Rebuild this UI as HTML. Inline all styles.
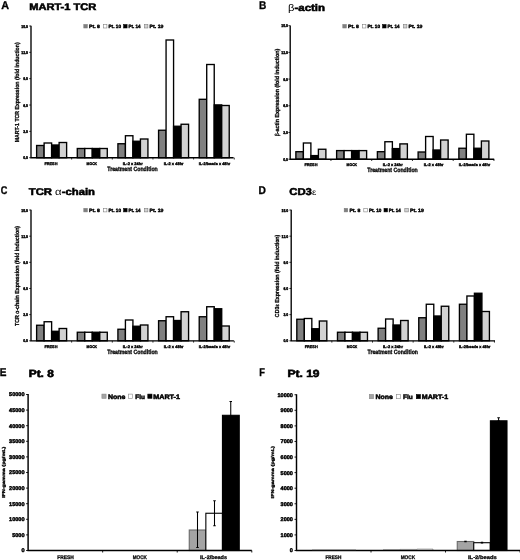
<!DOCTYPE html>
<html><head><meta charset="utf-8"><title>Figure</title>
<style>
html,body{margin:0;padding:0;background:#fff;}
body{width:520px;height:560px;overflow:hidden;font-family:"Liberation Sans", sans-serif;}
svg{display:block;font-family:"Liberation Sans", sans-serif;}
text{fill:#000;text-rendering:geometricPrecision;}
</style></head><body>
<svg width="520" height="560" viewBox="0 0 520 560">
<defs><filter id="soft" x="0" y="0" width="520" height="560" filterUnits="userSpaceOnUse"><feGaussianBlur stdDeviation="0.38"/></filter></defs>
<rect width="520" height="560" fill="#fff"/>
<g filter="url(#soft)">
<text x="1.3" y="9.0" font-size="11.2" font-weight="bold" text-anchor="start" textLength="7.8" lengthAdjust="spacingAndGlyphs" stroke="#000" stroke-width="0.336" >A</text>
<text x="29.25" y="9.8" font-size="9.5" font-weight="bold" text-anchor="start" textLength="67" lengthAdjust="spacingAndGlyphs" stroke="#000" stroke-width="0.570" >MART-1 TCR</text>
<text x="259.1" y="8.5" font-size="11.2" font-weight="bold" text-anchor="start" textLength="7.3" lengthAdjust="spacingAndGlyphs" stroke="#000" stroke-width="0.336" >B</text>
<text x="288" y="10.6" font-size="9.8" font-weight="bold" stroke="#000" stroke-width="0.55" textLength="37" lengthAdjust="spacingAndGlyphs"><tspan font-weight="normal" stroke="none" font-size="9.6">β</tspan>-actin</text>
<text x="0.8" y="193.7" font-size="11.2" font-weight="bold" text-anchor="start" textLength="6.6" lengthAdjust="spacingAndGlyphs" stroke="#000" stroke-width="0.336" >C</text>
<text x="28.75" y="195.2" font-size="9.8" font-weight="bold" stroke="#000" stroke-width="0.55" textLength="66.25" lengthAdjust="spacingAndGlyphs">TCR <tspan font-weight="normal" stroke="none">α</tspan>-chain</text>
<text x="258.6" y="194.2" font-size="11.2" font-weight="bold" text-anchor="start" textLength="7.4" lengthAdjust="spacingAndGlyphs" stroke="#000" stroke-width="0.336" >D</text>
<text x="289.25" y="194.5" font-size="9.9" font-weight="bold" stroke="#000" stroke-width="0.55" textLength="27" lengthAdjust="spacingAndGlyphs">CD3<tspan font-weight="normal" font-size="8.5" stroke="none">ε</tspan></text>
<text x="-0.2" y="376.2" font-size="11.2" font-weight="bold" text-anchor="start" textLength="6.7" lengthAdjust="spacingAndGlyphs" stroke="#000" stroke-width="0.336" >E</text>
<text x="28.75" y="377.2" font-size="10.3" font-weight="bold" text-anchor="start" textLength="25" lengthAdjust="spacingAndGlyphs" stroke="#000" stroke-width="0.618" >Pt. 8</text>
<text x="259.3" y="376.2" font-size="11.2" font-weight="bold" text-anchor="start" textLength="5.7" lengthAdjust="spacingAndGlyphs" stroke="#000" stroke-width="0.336" >F</text>
<text x="287.5" y="377.2" font-size="10.3" font-weight="bold" text-anchor="start" textLength="32" lengthAdjust="spacingAndGlyphs" stroke="#000" stroke-width="0.618" >Pt. 19</text>
<rect x="36.62" y="145.50" width="7.50" height="12.20" fill="#808080" stroke="#000" stroke-width="1.35"/>
<rect x="44.12" y="143.00" width="7.50" height="14.70" fill="#ffffff" stroke="#000" stroke-width="1.35"/>
<rect x="51.62" y="145.00" width="7.50" height="12.70" fill="#000000" stroke="#000" stroke-width="1.35"/>
<rect x="59.12" y="142.50" width="7.50" height="15.20" fill="#d2d2d2" stroke="#000" stroke-width="1.35"/>
<rect x="77.28" y="148.50" width="7.50" height="9.20" fill="#808080" stroke="#000" stroke-width="1.35"/>
<rect x="84.78" y="148.50" width="7.50" height="9.20" fill="#ffffff" stroke="#000" stroke-width="1.35"/>
<rect x="92.28" y="148.50" width="7.50" height="9.20" fill="#000000" stroke="#000" stroke-width="1.35"/>
<rect x="99.78" y="148.50" width="7.50" height="9.20" fill="#d2d2d2" stroke="#000" stroke-width="1.35"/>
<rect x="117.92" y="143.75" width="7.50" height="13.95" fill="#808080" stroke="#000" stroke-width="1.35"/>
<rect x="125.42" y="135.75" width="7.50" height="21.95" fill="#ffffff" stroke="#000" stroke-width="1.35"/>
<rect x="132.93" y="141.25" width="7.50" height="16.45" fill="#000000" stroke="#000" stroke-width="1.35"/>
<rect x="140.43" y="139.00" width="7.50" height="18.70" fill="#d2d2d2" stroke="#000" stroke-width="1.35"/>
<rect x="158.57" y="130.25" width="7.50" height="27.45" fill="#808080" stroke="#000" stroke-width="1.35"/>
<rect x="166.07" y="40.00" width="7.50" height="117.70" fill="#ffffff" stroke="#000" stroke-width="1.35"/>
<rect x="173.57" y="126.25" width="7.50" height="31.45" fill="#000000" stroke="#000" stroke-width="1.35"/>
<rect x="181.07" y="124.25" width="7.50" height="33.45" fill="#d2d2d2" stroke="#000" stroke-width="1.35"/>
<rect x="199.22" y="99.30" width="7.50" height="58.40" fill="#808080" stroke="#000" stroke-width="1.35"/>
<rect x="206.72" y="64.50" width="7.50" height="93.20" fill="#ffffff" stroke="#000" stroke-width="1.35"/>
<rect x="214.22" y="104.90" width="7.50" height="52.80" fill="#000000" stroke="#000" stroke-width="1.35"/>
<rect x="221.72" y="105.50" width="7.50" height="52.20" fill="#d2d2d2" stroke="#000" stroke-width="1.35"/>
<path d="M31 25.8 V157.7 H233.6" fill="none" stroke="#000" stroke-width="1.35"/>
<path d="M29.2 26.00 H31" stroke="#000" stroke-width="0.8"/>
<text x="28.0" y="27.6" font-size="4.0" font-weight="bold" text-anchor="end" textLength="6.8" lengthAdjust="spacingAndGlyphs" stroke="#000" stroke-width="0.400" >15.0</text>
<path d="M29.2 52.34 H31" stroke="#000" stroke-width="0.8"/>
<text x="28.0" y="53.94" font-size="4.0" font-weight="bold" text-anchor="end" textLength="6.8" lengthAdjust="spacingAndGlyphs" stroke="#000" stroke-width="0.400" >12.0</text>
<path d="M29.2 78.68 H31" stroke="#000" stroke-width="0.8"/>
<text x="28.0" y="80.28" font-size="4.0" font-weight="bold" text-anchor="end" textLength="4.8" lengthAdjust="spacingAndGlyphs" stroke="#000" stroke-width="0.400" >9.0</text>
<path d="M29.2 105.02 H31" stroke="#000" stroke-width="0.8"/>
<text x="28.0" y="106.62" font-size="4.0" font-weight="bold" text-anchor="end" textLength="4.8" lengthAdjust="spacingAndGlyphs" stroke="#000" stroke-width="0.400" >6.0</text>
<path d="M29.2 131.36 H31" stroke="#000" stroke-width="0.8"/>
<text x="28.0" y="132.96" font-size="4.0" font-weight="bold" text-anchor="end" textLength="4.8" lengthAdjust="spacingAndGlyphs" stroke="#000" stroke-width="0.400" >3.0</text>
<path d="M29.2 157.70 H31" stroke="#000" stroke-width="0.8"/>
<text x="28.0" y="159.3" font-size="4.0" font-weight="bold" text-anchor="end" textLength="4.8" lengthAdjust="spacingAndGlyphs" stroke="#000" stroke-width="0.400" >0.0</text>
<path d="M71.65 157.7 v1.8" stroke="#000" stroke-width="0.8"/>
<path d="M112.30 157.7 v1.8" stroke="#000" stroke-width="0.8"/>
<path d="M152.95 157.7 v1.8" stroke="#000" stroke-width="0.8"/>
<path d="M193.60 157.7 v1.8" stroke="#000" stroke-width="0.8"/>
<path d="M234.25 157.7 v1.8" stroke="#000" stroke-width="0.8"/>
<text x="50.95" y="164.6" font-size="3.9" font-weight="bold" text-anchor="middle" textLength="13" lengthAdjust="spacingAndGlyphs" stroke="#000" stroke-width="0.351" >FRESH</text>
<text x="91.85" y="164.6" font-size="3.9" font-weight="bold" text-anchor="middle" textLength="10.5" lengthAdjust="spacingAndGlyphs" stroke="#000" stroke-width="0.351" >MOCK</text>
<text x="132.75" y="164.6" font-size="3.9" font-weight="bold" text-anchor="middle" textLength="20" lengthAdjust="spacingAndGlyphs" stroke="#000" stroke-width="0.351" >IL-2 x 24hr</text>
<text x="173.65" y="164.6" font-size="3.9" font-weight="bold" text-anchor="middle" textLength="20" lengthAdjust="spacingAndGlyphs" stroke="#000" stroke-width="0.351" >IL-2 x 48hr</text>
<text x="214.55" y="164.6" font-size="3.9" font-weight="bold" text-anchor="middle" textLength="31.5" lengthAdjust="spacingAndGlyphs" stroke="#000" stroke-width="0.351" >IL-2/beads x 48hr</text>
<text x="132.5" y="171.1" font-size="6.2" font-weight="bold" text-anchor="middle" textLength="50.5" lengthAdjust="spacingAndGlyphs" stroke="#000" stroke-width="0.310" >Treatment Condition</text>
<text x="19.3" y="92.35" font-size="5.8" font-weight="bold" text-anchor="middle" textLength="100" lengthAdjust="spacingAndGlyphs" transform="rotate(-90 19.3 92.35)" stroke="#000" stroke-width="0.290" >MART-1 TCR Expression (fold induction)</text>
<rect x="83.80" y="24.50" width="3.5" height="3.5" fill="#808080" stroke="#777" stroke-width="0.55"/>
<text x="89.0" y="28.15" font-size="4.8" font-weight="bold" text-anchor="start" textLength="10.9" lengthAdjust="spacingAndGlyphs" stroke="#000" stroke-width="0.408" >Pt. 8</text>
<rect x="103.40" y="24.50" width="3.5" height="3.5" fill="#ffffff" stroke="#777" stroke-width="0.55"/>
<text x="108.5" y="28.15" font-size="4.8" font-weight="bold" text-anchor="start" textLength="12.5" lengthAdjust="spacingAndGlyphs" stroke="#000" stroke-width="0.408" >Pt. 10</text>
<rect x="123.60" y="24.50" width="3.5" height="3.5" fill="#000000" stroke="#000" stroke-width="0.55"/>
<text x="128.4" y="28.15" font-size="4.8" font-weight="bold" text-anchor="start" textLength="12.1" lengthAdjust="spacingAndGlyphs" stroke="#000" stroke-width="0.408" >Pt. 14</text>
<rect x="144.40" y="24.50" width="3.5" height="3.5" fill="#d2d2d2" stroke="#777" stroke-width="0.55"/>
<text x="149.6" y="28.15" font-size="4.8" font-weight="bold" text-anchor="start" textLength="13.8" lengthAdjust="spacingAndGlyphs" stroke="#000" stroke-width="0.408" >Pt. 19</text>
<rect x="295.88" y="151.70" width="7.50" height="7.50" fill="#808080" stroke="#000" stroke-width="1.35"/>
<rect x="303.38" y="143.00" width="7.50" height="16.20" fill="#ffffff" stroke="#000" stroke-width="1.35"/>
<rect x="310.88" y="155.60" width="7.50" height="3.60" fill="#000000" stroke="#000" stroke-width="1.35"/>
<rect x="318.38" y="149.25" width="7.50" height="9.95" fill="#d2d2d2" stroke="#000" stroke-width="1.35"/>
<rect x="336.62" y="150.60" width="7.50" height="8.60" fill="#808080" stroke="#000" stroke-width="1.35"/>
<rect x="344.12" y="150.60" width="7.50" height="8.60" fill="#ffffff" stroke="#000" stroke-width="1.35"/>
<rect x="351.62" y="150.60" width="7.50" height="8.60" fill="#000000" stroke="#000" stroke-width="1.35"/>
<rect x="359.12" y="150.60" width="7.50" height="8.60" fill="#d2d2d2" stroke="#000" stroke-width="1.35"/>
<rect x="377.38" y="151.70" width="7.50" height="7.50" fill="#808080" stroke="#000" stroke-width="1.35"/>
<rect x="384.88" y="141.75" width="7.50" height="17.45" fill="#ffffff" stroke="#000" stroke-width="1.35"/>
<rect x="392.38" y="148.60" width="7.50" height="10.60" fill="#000000" stroke="#000" stroke-width="1.35"/>
<rect x="399.88" y="143.90" width="7.50" height="15.30" fill="#d2d2d2" stroke="#000" stroke-width="1.35"/>
<rect x="418.12" y="152.00" width="7.50" height="7.20" fill="#808080" stroke="#000" stroke-width="1.35"/>
<rect x="425.62" y="136.50" width="7.50" height="22.70" fill="#ffffff" stroke="#000" stroke-width="1.35"/>
<rect x="433.12" y="150.00" width="7.50" height="9.20" fill="#000000" stroke="#000" stroke-width="1.35"/>
<rect x="440.62" y="140.00" width="7.50" height="19.20" fill="#d2d2d2" stroke="#000" stroke-width="1.35"/>
<rect x="458.88" y="148.25" width="7.50" height="10.95" fill="#808080" stroke="#000" stroke-width="1.35"/>
<rect x="466.38" y="134.25" width="7.50" height="24.95" fill="#ffffff" stroke="#000" stroke-width="1.35"/>
<rect x="473.88" y="148.25" width="7.50" height="10.95" fill="#000000" stroke="#000" stroke-width="1.35"/>
<rect x="481.38" y="141.00" width="7.50" height="18.20" fill="#d2d2d2" stroke="#000" stroke-width="1.35"/>
<path d="M290.2 25.5 V159.2 H494.2" fill="none" stroke="#000" stroke-width="1.35"/>
<path d="M288.4 25.70 H290.2" stroke="#000" stroke-width="0.8"/>
<text x="288.0" y="27.3" font-size="4.0" font-weight="bold" text-anchor="end" textLength="6.8" lengthAdjust="spacingAndGlyphs" stroke="#000" stroke-width="0.400" >15.0</text>
<path d="M288.4 52.40 H290.2" stroke="#000" stroke-width="0.8"/>
<text x="288.0" y="54.0" font-size="4.0" font-weight="bold" text-anchor="end" textLength="6.8" lengthAdjust="spacingAndGlyphs" stroke="#000" stroke-width="0.400" >12.0</text>
<path d="M288.4 79.10 H290.2" stroke="#000" stroke-width="0.8"/>
<text x="288.0" y="80.7" font-size="4.0" font-weight="bold" text-anchor="end" textLength="4.8" lengthAdjust="spacingAndGlyphs" stroke="#000" stroke-width="0.400" >9.0</text>
<path d="M288.4 105.80 H290.2" stroke="#000" stroke-width="0.8"/>
<text x="288.0" y="107.4" font-size="4.0" font-weight="bold" text-anchor="end" textLength="4.8" lengthAdjust="spacingAndGlyphs" stroke="#000" stroke-width="0.400" >6.0</text>
<path d="M288.4 132.50 H290.2" stroke="#000" stroke-width="0.8"/>
<text x="288.0" y="134.1" font-size="4.0" font-weight="bold" text-anchor="end" textLength="4.8" lengthAdjust="spacingAndGlyphs" stroke="#000" stroke-width="0.400" >3.0</text>
<path d="M288.4 159.20 H290.2" stroke="#000" stroke-width="0.8"/>
<text x="288.0" y="160.8" font-size="4.0" font-weight="bold" text-anchor="end" textLength="4.8" lengthAdjust="spacingAndGlyphs" stroke="#000" stroke-width="0.400" >0.0</text>
<path d="M330.95 159.2 v1.8" stroke="#000" stroke-width="0.8"/>
<path d="M371.70 159.2 v1.8" stroke="#000" stroke-width="0.8"/>
<path d="M412.45 159.2 v1.8" stroke="#000" stroke-width="0.8"/>
<path d="M453.20 159.2 v1.8" stroke="#000" stroke-width="0.8"/>
<path d="M493.95 159.2 v1.8" stroke="#000" stroke-width="0.8"/>
<text x="310.95" y="166.1" font-size="3.9" font-weight="bold" text-anchor="middle" textLength="13" lengthAdjust="spacingAndGlyphs" stroke="#000" stroke-width="0.351" >FRESH</text>
<text x="351.85" y="166.1" font-size="3.9" font-weight="bold" text-anchor="middle" textLength="10.5" lengthAdjust="spacingAndGlyphs" stroke="#000" stroke-width="0.351" >MOCK</text>
<text x="392.75" y="166.1" font-size="3.9" font-weight="bold" text-anchor="middle" textLength="20" lengthAdjust="spacingAndGlyphs" stroke="#000" stroke-width="0.351" >IL-2 x 24hr</text>
<text x="433.65" y="166.1" font-size="3.9" font-weight="bold" text-anchor="middle" textLength="20" lengthAdjust="spacingAndGlyphs" stroke="#000" stroke-width="0.351" >IL-2 x 48hr</text>
<text x="474.55" y="166.1" font-size="3.9" font-weight="bold" text-anchor="middle" textLength="31.5" lengthAdjust="spacingAndGlyphs" stroke="#000" stroke-width="0.351" >IL-2/beads x 48hr</text>
<text x="392.5" y="171.6" font-size="6.2" font-weight="bold" text-anchor="middle" textLength="50.5" lengthAdjust="spacingAndGlyphs" stroke="#000" stroke-width="0.310" >Treatment Condition</text>
<text x="279.3" y="92.5" font-size="5.8" font-weight="bold" text-anchor="middle" textLength="87.5" lengthAdjust="spacingAndGlyphs" transform="rotate(-90 279.3 92.5)" stroke="#000" stroke-width="0.290" ><tspan font-weight="normal">β</tspan>-actin Expression (fold induction)</text>
<rect x="342.80" y="24.50" width="3.5" height="3.5" fill="#808080" stroke="#777" stroke-width="0.55"/>
<text x="348.0" y="28.15" font-size="4.8" font-weight="bold" text-anchor="start" textLength="10.9" lengthAdjust="spacingAndGlyphs" stroke="#000" stroke-width="0.408" >Pt. 8</text>
<rect x="362.40" y="24.50" width="3.5" height="3.5" fill="#ffffff" stroke="#777" stroke-width="0.55"/>
<text x="367.5" y="28.15" font-size="4.8" font-weight="bold" text-anchor="start" textLength="12.5" lengthAdjust="spacingAndGlyphs" stroke="#000" stroke-width="0.408" >Pt. 10</text>
<rect x="382.60" y="24.50" width="3.5" height="3.5" fill="#000000" stroke="#000" stroke-width="0.55"/>
<text x="387.4" y="28.15" font-size="4.8" font-weight="bold" text-anchor="start" textLength="12.1" lengthAdjust="spacingAndGlyphs" stroke="#000" stroke-width="0.408" >Pt. 14</text>
<rect x="403.40" y="24.50" width="3.5" height="3.5" fill="#d2d2d2" stroke="#777" stroke-width="0.55"/>
<text x="408.6" y="28.15" font-size="4.8" font-weight="bold" text-anchor="start" textLength="13.8" lengthAdjust="spacingAndGlyphs" stroke="#000" stroke-width="0.408" >Pt. 19</text>
<rect x="36.62" y="325.25" width="7.50" height="15.55" fill="#808080" stroke="#000" stroke-width="1.35"/>
<rect x="44.12" y="321.75" width="7.50" height="19.05" fill="#ffffff" stroke="#000" stroke-width="1.35"/>
<rect x="51.62" y="331.30" width="7.50" height="9.50" fill="#000000" stroke="#000" stroke-width="1.35"/>
<rect x="59.12" y="328.50" width="7.50" height="12.30" fill="#d2d2d2" stroke="#000" stroke-width="1.35"/>
<rect x="77.28" y="332.25" width="7.50" height="8.55" fill="#808080" stroke="#000" stroke-width="1.35"/>
<rect x="84.78" y="332.25" width="7.50" height="8.55" fill="#ffffff" stroke="#000" stroke-width="1.35"/>
<rect x="92.28" y="332.25" width="7.50" height="8.55" fill="#000000" stroke="#000" stroke-width="1.35"/>
<rect x="99.78" y="332.25" width="7.50" height="8.55" fill="#d2d2d2" stroke="#000" stroke-width="1.35"/>
<rect x="117.92" y="329.25" width="7.50" height="11.55" fill="#808080" stroke="#000" stroke-width="1.35"/>
<rect x="125.42" y="320.00" width="7.50" height="20.80" fill="#ffffff" stroke="#000" stroke-width="1.35"/>
<rect x="132.93" y="326.25" width="7.50" height="14.55" fill="#000000" stroke="#000" stroke-width="1.35"/>
<rect x="140.43" y="325.00" width="7.50" height="15.80" fill="#d2d2d2" stroke="#000" stroke-width="1.35"/>
<rect x="158.57" y="320.75" width="7.50" height="20.05" fill="#808080" stroke="#000" stroke-width="1.35"/>
<rect x="166.07" y="316.75" width="7.50" height="24.05" fill="#ffffff" stroke="#000" stroke-width="1.35"/>
<rect x="173.57" y="320.50" width="7.50" height="20.30" fill="#000000" stroke="#000" stroke-width="1.35"/>
<rect x="181.07" y="311.75" width="7.50" height="29.05" fill="#d2d2d2" stroke="#000" stroke-width="1.35"/>
<rect x="199.22" y="316.75" width="7.50" height="24.05" fill="#808080" stroke="#000" stroke-width="1.35"/>
<rect x="206.72" y="306.75" width="7.50" height="34.05" fill="#ffffff" stroke="#000" stroke-width="1.35"/>
<rect x="214.22" y="308.75" width="7.50" height="32.05" fill="#000000" stroke="#000" stroke-width="1.35"/>
<rect x="221.72" y="326.00" width="7.50" height="14.80" fill="#d2d2d2" stroke="#000" stroke-width="1.35"/>
<path d="M31 209.8 V340.8 H233.9" fill="none" stroke="#000" stroke-width="1.35"/>
<path d="M29.2 210.00 H31" stroke="#000" stroke-width="0.8"/>
<text x="28.0" y="211.6" font-size="4.0" font-weight="bold" text-anchor="end" textLength="6.8" lengthAdjust="spacingAndGlyphs" stroke="#000" stroke-width="0.400" >15.0</text>
<path d="M29.2 236.16 H31" stroke="#000" stroke-width="0.8"/>
<text x="28.0" y="237.76" font-size="4.0" font-weight="bold" text-anchor="end" textLength="6.8" lengthAdjust="spacingAndGlyphs" stroke="#000" stroke-width="0.400" >12.0</text>
<path d="M29.2 262.32 H31" stroke="#000" stroke-width="0.8"/>
<text x="28.0" y="263.92" font-size="4.0" font-weight="bold" text-anchor="end" textLength="4.8" lengthAdjust="spacingAndGlyphs" stroke="#000" stroke-width="0.400" >9.0</text>
<path d="M29.2 288.48 H31" stroke="#000" stroke-width="0.8"/>
<text x="28.0" y="290.08" font-size="4.0" font-weight="bold" text-anchor="end" textLength="4.8" lengthAdjust="spacingAndGlyphs" stroke="#000" stroke-width="0.400" >6.0</text>
<path d="M29.2 314.64 H31" stroke="#000" stroke-width="0.8"/>
<text x="28.0" y="316.24" font-size="4.0" font-weight="bold" text-anchor="end" textLength="4.8" lengthAdjust="spacingAndGlyphs" stroke="#000" stroke-width="0.400" >3.0</text>
<path d="M29.2 340.80 H31" stroke="#000" stroke-width="0.8"/>
<text x="28.0" y="342.4" font-size="4.0" font-weight="bold" text-anchor="end" textLength="4.8" lengthAdjust="spacingAndGlyphs" stroke="#000" stroke-width="0.400" >0.0</text>
<path d="M71.65 340.8 v1.8" stroke="#000" stroke-width="0.8"/>
<path d="M112.30 340.8 v1.8" stroke="#000" stroke-width="0.8"/>
<path d="M152.95 340.8 v1.8" stroke="#000" stroke-width="0.8"/>
<path d="M193.60 340.8 v1.8" stroke="#000" stroke-width="0.8"/>
<path d="M234.25 340.8 v1.8" stroke="#000" stroke-width="0.8"/>
<text x="50.95" y="347.7" font-size="3.9" font-weight="bold" text-anchor="middle" textLength="13" lengthAdjust="spacingAndGlyphs" stroke="#000" stroke-width="0.351" >FRESH</text>
<text x="91.85" y="347.7" font-size="3.9" font-weight="bold" text-anchor="middle" textLength="10.5" lengthAdjust="spacingAndGlyphs" stroke="#000" stroke-width="0.351" >MOCK</text>
<text x="132.75" y="347.7" font-size="3.9" font-weight="bold" text-anchor="middle" textLength="20" lengthAdjust="spacingAndGlyphs" stroke="#000" stroke-width="0.351" >IL-2 x 24hr</text>
<text x="173.65" y="347.7" font-size="3.9" font-weight="bold" text-anchor="middle" textLength="20" lengthAdjust="spacingAndGlyphs" stroke="#000" stroke-width="0.351" >IL-2 x 48hr</text>
<text x="214.55" y="347.7" font-size="3.9" font-weight="bold" text-anchor="middle" textLength="31.5" lengthAdjust="spacingAndGlyphs" stroke="#000" stroke-width="0.351" >IL-2/beads x 48hr</text>
<text x="132.5" y="354.2" font-size="6.2" font-weight="bold" text-anchor="middle" textLength="50.5" lengthAdjust="spacingAndGlyphs" stroke="#000" stroke-width="0.310" >Treatment Condition</text>
<text x="19.3" y="275.9" font-size="5.8" font-weight="bold" text-anchor="middle" textLength="100" lengthAdjust="spacingAndGlyphs" transform="rotate(-90 19.3 275.9)" stroke="#000" stroke-width="0.290" >TCR <tspan font-weight="normal">α</tspan>-chain Expression (fold induction)</text>
<rect x="83.80" y="208.40" width="3.5" height="3.5" fill="#808080" stroke="#777" stroke-width="0.55"/>
<text x="89.0" y="212.05" font-size="4.8" font-weight="bold" text-anchor="start" textLength="10.9" lengthAdjust="spacingAndGlyphs" stroke="#000" stroke-width="0.408" >Pt. 8</text>
<rect x="103.40" y="208.40" width="3.5" height="3.5" fill="#ffffff" stroke="#777" stroke-width="0.55"/>
<text x="108.5" y="212.05" font-size="4.8" font-weight="bold" text-anchor="start" textLength="12.5" lengthAdjust="spacingAndGlyphs" stroke="#000" stroke-width="0.408" >Pt. 10</text>
<rect x="123.60" y="208.40" width="3.5" height="3.5" fill="#000000" stroke="#000" stroke-width="0.55"/>
<text x="128.4" y="212.05" font-size="4.8" font-weight="bold" text-anchor="start" textLength="12.1" lengthAdjust="spacingAndGlyphs" stroke="#000" stroke-width="0.408" >Pt. 14</text>
<rect x="144.40" y="208.40" width="3.5" height="3.5" fill="#d2d2d2" stroke="#777" stroke-width="0.55"/>
<text x="149.6" y="212.05" font-size="4.8" font-weight="bold" text-anchor="start" textLength="13.8" lengthAdjust="spacingAndGlyphs" stroke="#000" stroke-width="0.408" >Pt. 19</text>
<rect x="296.82" y="319.25" width="7.50" height="21.55" fill="#808080" stroke="#000" stroke-width="1.35"/>
<rect x="304.32" y="318.50" width="7.50" height="22.30" fill="#ffffff" stroke="#000" stroke-width="1.35"/>
<rect x="311.82" y="328.75" width="7.50" height="12.05" fill="#000000" stroke="#000" stroke-width="1.35"/>
<rect x="319.32" y="321.00" width="7.50" height="19.80" fill="#d2d2d2" stroke="#000" stroke-width="1.35"/>
<rect x="337.47" y="332.25" width="7.50" height="8.55" fill="#808080" stroke="#000" stroke-width="1.35"/>
<rect x="344.97" y="332.25" width="7.50" height="8.55" fill="#ffffff" stroke="#000" stroke-width="1.35"/>
<rect x="352.47" y="332.25" width="7.50" height="8.55" fill="#000000" stroke="#000" stroke-width="1.35"/>
<rect x="359.97" y="332.25" width="7.50" height="8.55" fill="#d2d2d2" stroke="#000" stroke-width="1.35"/>
<rect x="378.12" y="328.25" width="7.50" height="12.55" fill="#808080" stroke="#000" stroke-width="1.35"/>
<rect x="385.62" y="319.00" width="7.50" height="21.80" fill="#ffffff" stroke="#000" stroke-width="1.35"/>
<rect x="393.12" y="325.00" width="7.50" height="15.80" fill="#000000" stroke="#000" stroke-width="1.35"/>
<rect x="400.62" y="320.50" width="7.50" height="20.30" fill="#d2d2d2" stroke="#000" stroke-width="1.35"/>
<rect x="418.77" y="317.75" width="7.50" height="23.05" fill="#808080" stroke="#000" stroke-width="1.35"/>
<rect x="426.27" y="304.25" width="7.50" height="36.55" fill="#ffffff" stroke="#000" stroke-width="1.35"/>
<rect x="433.77" y="316.00" width="7.50" height="24.80" fill="#000000" stroke="#000" stroke-width="1.35"/>
<rect x="441.27" y="306.25" width="7.50" height="34.55" fill="#d2d2d2" stroke="#000" stroke-width="1.35"/>
<rect x="459.42" y="304.25" width="7.50" height="36.55" fill="#808080" stroke="#000" stroke-width="1.35"/>
<rect x="466.92" y="296.00" width="7.50" height="44.80" fill="#ffffff" stroke="#000" stroke-width="1.35"/>
<rect x="474.42" y="293.25" width="7.50" height="47.55" fill="#000000" stroke="#000" stroke-width="1.35"/>
<rect x="481.92" y="311.50" width="7.50" height="29.30" fill="#d2d2d2" stroke="#000" stroke-width="1.35"/>
<path d="M291.2 209.8 V340.8 H495" fill="none" stroke="#000" stroke-width="1.35"/>
<path d="M289.4 210.00 H291.2" stroke="#000" stroke-width="0.8"/>
<text x="288.25" y="211.6" font-size="4.0" font-weight="bold" text-anchor="end" textLength="6.8" lengthAdjust="spacingAndGlyphs" stroke="#000" stroke-width="0.400" >15.0</text>
<path d="M289.4 236.16 H291.2" stroke="#000" stroke-width="0.8"/>
<text x="288.25" y="237.76" font-size="4.0" font-weight="bold" text-anchor="end" textLength="6.8" lengthAdjust="spacingAndGlyphs" stroke="#000" stroke-width="0.400" >12.0</text>
<path d="M289.4 262.32 H291.2" stroke="#000" stroke-width="0.8"/>
<text x="288.25" y="263.92" font-size="4.0" font-weight="bold" text-anchor="end" textLength="4.8" lengthAdjust="spacingAndGlyphs" stroke="#000" stroke-width="0.400" >9.0</text>
<path d="M289.4 288.48 H291.2" stroke="#000" stroke-width="0.8"/>
<text x="288.25" y="290.08" font-size="4.0" font-weight="bold" text-anchor="end" textLength="4.8" lengthAdjust="spacingAndGlyphs" stroke="#000" stroke-width="0.400" >6.0</text>
<path d="M289.4 314.64 H291.2" stroke="#000" stroke-width="0.8"/>
<text x="288.25" y="316.24" font-size="4.0" font-weight="bold" text-anchor="end" textLength="4.8" lengthAdjust="spacingAndGlyphs" stroke="#000" stroke-width="0.400" >3.0</text>
<path d="M289.4 340.80 H291.2" stroke="#000" stroke-width="0.8"/>
<text x="288.25" y="342.4" font-size="4.0" font-weight="bold" text-anchor="end" textLength="4.8" lengthAdjust="spacingAndGlyphs" stroke="#000" stroke-width="0.400" >0.0</text>
<path d="M331.85 340.8 v1.8" stroke="#000" stroke-width="0.8"/>
<path d="M372.50 340.8 v1.8" stroke="#000" stroke-width="0.8"/>
<path d="M413.15 340.8 v1.8" stroke="#000" stroke-width="0.8"/>
<path d="M453.80 340.8 v1.8" stroke="#000" stroke-width="0.8"/>
<path d="M494.45 340.8 v1.8" stroke="#000" stroke-width="0.8"/>
<text x="311.2" y="347.7" font-size="3.9" font-weight="bold" text-anchor="middle" textLength="13" lengthAdjust="spacingAndGlyphs" stroke="#000" stroke-width="0.351" >FRESH</text>
<text x="352.1" y="347.7" font-size="3.9" font-weight="bold" text-anchor="middle" textLength="10.5" lengthAdjust="spacingAndGlyphs" stroke="#000" stroke-width="0.351" >MOCK</text>
<text x="393.0" y="347.7" font-size="3.9" font-weight="bold" text-anchor="middle" textLength="20" lengthAdjust="spacingAndGlyphs" stroke="#000" stroke-width="0.351" >IL-2 x 24hr</text>
<text x="433.9" y="347.7" font-size="3.9" font-weight="bold" text-anchor="middle" textLength="20" lengthAdjust="spacingAndGlyphs" stroke="#000" stroke-width="0.351" >IL-2 x 48hr</text>
<text x="474.8" y="347.7" font-size="3.9" font-weight="bold" text-anchor="middle" textLength="31.5" lengthAdjust="spacingAndGlyphs" stroke="#000" stroke-width="0.351" >IL-2/beads x 48hr</text>
<text x="392.75" y="354.2" font-size="6.2" font-weight="bold" text-anchor="middle" textLength="50.5" lengthAdjust="spacingAndGlyphs" stroke="#000" stroke-width="0.310" >Treatment Condition</text>
<text x="278.55" y="275.9" font-size="5.8" font-weight="bold" text-anchor="middle" textLength="82.5" lengthAdjust="spacingAndGlyphs" transform="rotate(-90 278.55 275.9)" stroke="#000" stroke-width="0.290" >CD3<tspan font-weight="normal">ε</tspan> Expression (fold induction)</text>
<rect x="344.20" y="208.40" width="3.5" height="3.5" fill="#808080" stroke="#777" stroke-width="0.55"/>
<text x="349.4" y="212.05" font-size="4.8" font-weight="bold" text-anchor="start" textLength="10.9" lengthAdjust="spacingAndGlyphs" stroke="#000" stroke-width="0.408" >Pt. 8</text>
<rect x="363.80" y="208.40" width="3.5" height="3.5" fill="#ffffff" stroke="#777" stroke-width="0.55"/>
<text x="368.9" y="212.05" font-size="4.8" font-weight="bold" text-anchor="start" textLength="12.5" lengthAdjust="spacingAndGlyphs" stroke="#000" stroke-width="0.408" >Pt. 10</text>
<rect x="384.00" y="208.40" width="3.5" height="3.5" fill="#000000" stroke="#000" stroke-width="0.55"/>
<text x="388.8" y="212.05" font-size="4.8" font-weight="bold" text-anchor="start" textLength="12.1" lengthAdjust="spacingAndGlyphs" stroke="#000" stroke-width="0.408" >Pt. 14</text>
<rect x="404.80" y="208.40" width="3.5" height="3.5" fill="#d2d2d2" stroke="#777" stroke-width="0.55"/>
<text x="410.0" y="212.05" font-size="4.8" font-weight="bold" text-anchor="start" textLength="13.8" lengthAdjust="spacingAndGlyphs" stroke="#000" stroke-width="0.408" >Pt. 19</text>
<rect x="189.25" y="530.00" width="16.60" height="20.50" fill="#a4a4a4" stroke="#6a6a6a" stroke-width="1.1"/>
<rect x="205.85" y="513.25" width="16.60" height="37.25" fill="#ffffff" stroke="#000" stroke-width="1.1"/>
<rect x="222.45" y="415.30" width="16.80" height="135.20" fill="#000000" stroke="#000" stroke-width="1.1"/>
<path d="M28.1 394.0 V550.5 H251.8" fill="none" stroke="#000" stroke-width="1.45"/>
<path d="M26.1 394.50 H28.1" stroke="#000" stroke-width="0.9"/>
<text x="24.5" y="396.45" font-size="5.4" font-weight="bold" text-anchor="end" textLength="15.4" lengthAdjust="spacingAndGlyphs" stroke="#000" stroke-width="0.432" >50000</text>
<path d="M26.1 410.10 H28.1" stroke="#000" stroke-width="0.9"/>
<text x="24.5" y="412.05" font-size="5.4" font-weight="bold" text-anchor="end" textLength="15.4" lengthAdjust="spacingAndGlyphs" stroke="#000" stroke-width="0.432" >45000</text>
<path d="M26.1 425.70 H28.1" stroke="#000" stroke-width="0.9"/>
<text x="24.5" y="427.65" font-size="5.4" font-weight="bold" text-anchor="end" textLength="15.4" lengthAdjust="spacingAndGlyphs" stroke="#000" stroke-width="0.432" >40000</text>
<path d="M26.1 441.30 H28.1" stroke="#000" stroke-width="0.9"/>
<text x="24.5" y="443.25" font-size="5.4" font-weight="bold" text-anchor="end" textLength="15.4" lengthAdjust="spacingAndGlyphs" stroke="#000" stroke-width="0.432" >35000</text>
<path d="M26.1 456.90 H28.1" stroke="#000" stroke-width="0.9"/>
<text x="24.5" y="458.85" font-size="5.4" font-weight="bold" text-anchor="end" textLength="15.4" lengthAdjust="spacingAndGlyphs" stroke="#000" stroke-width="0.432" >30000</text>
<path d="M26.1 472.50 H28.1" stroke="#000" stroke-width="0.9"/>
<text x="24.5" y="474.45" font-size="5.4" font-weight="bold" text-anchor="end" textLength="15.4" lengthAdjust="spacingAndGlyphs" stroke="#000" stroke-width="0.432" >25000</text>
<path d="M26.1 488.10 H28.1" stroke="#000" stroke-width="0.9"/>
<text x="24.5" y="490.05" font-size="5.4" font-weight="bold" text-anchor="end" textLength="15.4" lengthAdjust="spacingAndGlyphs" stroke="#000" stroke-width="0.432" >20000</text>
<path d="M26.1 503.70 H28.1" stroke="#000" stroke-width="0.9"/>
<text x="24.5" y="505.65" font-size="5.4" font-weight="bold" text-anchor="end" textLength="15.4" lengthAdjust="spacingAndGlyphs" stroke="#000" stroke-width="0.432" >15000</text>
<path d="M26.1 519.30 H28.1" stroke="#000" stroke-width="0.9"/>
<text x="24.5" y="521.25" font-size="5.4" font-weight="bold" text-anchor="end" textLength="15.4" lengthAdjust="spacingAndGlyphs" stroke="#000" stroke-width="0.432" >10000</text>
<path d="M26.1 534.90 H28.1" stroke="#000" stroke-width="0.9"/>
<text x="24.5" y="536.85" font-size="5.4" font-weight="bold" text-anchor="end" textLength="12.32" lengthAdjust="spacingAndGlyphs" stroke="#000" stroke-width="0.432" >5000</text>
<path d="M26.1 550.50 H28.1" stroke="#000" stroke-width="0.9"/>
<text x="24.5" y="552.45" font-size="5.4" font-weight="bold" text-anchor="end" textLength="3.08" lengthAdjust="spacingAndGlyphs" stroke="#000" stroke-width="0.432" >0</text>
<path d="M102.67 550.5 v2" stroke="#000" stroke-width="0.9"/>
<path d="M177.23 550.5 v2" stroke="#000" stroke-width="0.9"/>
<path d="M251.80 550.5 v2" stroke="#000" stroke-width="0.9"/>
<path d="M197.5 512 V547.5 M196.25 512 h2.5 M196.25 547.5 h2.5" stroke="#000" stroke-width="1.05" fill="none"/>
<path d="M214.5 500.7 V525.75 M213.25 500.7 h2.5 M213.25 525.75 h2.5" stroke="#000" stroke-width="1.05" fill="none"/>
<path d="M230.75 401.4 V416 M229.5 401.4 h2.5 M229.5 416 h2.5" stroke="#000" stroke-width="1.05" fill="none"/>
<text x="65.6" y="558.8" font-size="5.2" font-weight="bold" text-anchor="middle" textLength="16.5" lengthAdjust="spacingAndGlyphs" stroke="#000" stroke-width="0.260" >FRESH</text>
<text x="139.8" y="558.8" font-size="5.2" font-weight="bold" text-anchor="middle" textLength="14" lengthAdjust="spacingAndGlyphs" stroke="#000" stroke-width="0.260" >MOCK</text>
<text x="213.5" y="558.8" font-size="5.2" font-weight="bold" text-anchor="middle" textLength="27" lengthAdjust="spacingAndGlyphs" stroke="#000" stroke-width="0.260" >IL-2/beads</text>
<text x="5.1" y="472.3" font-size="4.2" font-weight="bold" text-anchor="middle" textLength="51.5" lengthAdjust="spacingAndGlyphs" transform="rotate(-90 5.1 472.3)" stroke="#000" stroke-width="0.336" >IFN-gamma (pg/mL)</text>
<rect x="101.9" y="394.1" width="4.2" height="4.2" fill="#a4a4a4" stroke="#888" stroke-width="0.6"/>
<text x="107.9" y="398.5" font-size="6.4" font-weight="bold" text-anchor="start" textLength="17.5" lengthAdjust="spacingAndGlyphs" stroke="#000" stroke-width="0.480" >None</text>
<rect x="128.4" y="394.1" width="4.2" height="4.2" fill="#ffffff" stroke="#888" stroke-width="0.6"/>
<text x="135.2" y="398.5" font-size="6.4" font-weight="bold" text-anchor="start" textLength="9.7" lengthAdjust="spacingAndGlyphs" stroke="#000" stroke-width="0.480" >Flu</text>
<rect x="147.8" y="394.1" width="4.2" height="4.2" fill="#000000" stroke="#000" stroke-width="0.6"/>
<text x="153.2" y="398.5" font-size="6.4" font-weight="bold" text-anchor="start" textLength="26.8" lengthAdjust="spacingAndGlyphs" stroke="#000" stroke-width="0.480" >MART-1</text>
<rect x="457.25" y="541.50" width="16.50" height="9.00" fill="#a4a4a4" stroke="#6a6a6a" stroke-width="1.1"/>
<rect x="473.75" y="542.70" width="16.50" height="7.80" fill="#ffffff" stroke="#000" stroke-width="1.1"/>
<rect x="490.40" y="420.80" width="16.60" height="129.70" fill="#000000" stroke="#000" stroke-width="1.1"/>
<path d="M296.5 394.25 V550.5 H520" fill="none" stroke="#000" stroke-width="1.45"/>
<path d="M294.5 394.75 H296.5" stroke="#000" stroke-width="0.9"/>
<text x="292.9" y="396.7" font-size="5.4" font-weight="bold" text-anchor="end" textLength="15.4" lengthAdjust="spacingAndGlyphs" stroke="#000" stroke-width="0.432" >10000</text>
<path d="M294.5 410.32 H296.5" stroke="#000" stroke-width="0.9"/>
<text x="292.9" y="412.27" font-size="5.4" font-weight="bold" text-anchor="end" textLength="12.32" lengthAdjust="spacingAndGlyphs" stroke="#000" stroke-width="0.432" >9000</text>
<path d="M294.5 425.90 H296.5" stroke="#000" stroke-width="0.9"/>
<text x="292.9" y="427.85" font-size="5.4" font-weight="bold" text-anchor="end" textLength="12.32" lengthAdjust="spacingAndGlyphs" stroke="#000" stroke-width="0.432" >8000</text>
<path d="M294.5 441.48 H296.5" stroke="#000" stroke-width="0.9"/>
<text x="292.9" y="443.43" font-size="5.4" font-weight="bold" text-anchor="end" textLength="12.32" lengthAdjust="spacingAndGlyphs" stroke="#000" stroke-width="0.432" >7000</text>
<path d="M294.5 457.05 H296.5" stroke="#000" stroke-width="0.9"/>
<text x="292.9" y="459.0" font-size="5.4" font-weight="bold" text-anchor="end" textLength="12.32" lengthAdjust="spacingAndGlyphs" stroke="#000" stroke-width="0.432" >6000</text>
<path d="M294.5 472.62 H296.5" stroke="#000" stroke-width="0.9"/>
<text x="292.9" y="474.57" font-size="5.4" font-weight="bold" text-anchor="end" textLength="12.32" lengthAdjust="spacingAndGlyphs" stroke="#000" stroke-width="0.432" >5000</text>
<path d="M294.5 488.20 H296.5" stroke="#000" stroke-width="0.9"/>
<text x="292.9" y="490.15" font-size="5.4" font-weight="bold" text-anchor="end" textLength="12.32" lengthAdjust="spacingAndGlyphs" stroke="#000" stroke-width="0.432" >4000</text>
<path d="M294.5 503.77 H296.5" stroke="#000" stroke-width="0.9"/>
<text x="292.9" y="505.72" font-size="5.4" font-weight="bold" text-anchor="end" textLength="12.32" lengthAdjust="spacingAndGlyphs" stroke="#000" stroke-width="0.432" >3000</text>
<path d="M294.5 519.35 H296.5" stroke="#000" stroke-width="0.9"/>
<text x="292.9" y="521.3" font-size="5.4" font-weight="bold" text-anchor="end" textLength="12.32" lengthAdjust="spacingAndGlyphs" stroke="#000" stroke-width="0.432" >2000</text>
<path d="M294.5 534.92 H296.5" stroke="#000" stroke-width="0.9"/>
<text x="292.9" y="536.88" font-size="5.4" font-weight="bold" text-anchor="end" textLength="12.32" lengthAdjust="spacingAndGlyphs" stroke="#000" stroke-width="0.432" >1000</text>
<path d="M294.5 550.50 H296.5" stroke="#000" stroke-width="0.9"/>
<text x="292.9" y="552.45" font-size="5.4" font-weight="bold" text-anchor="end" textLength="3.08" lengthAdjust="spacingAndGlyphs" stroke="#000" stroke-width="0.432" >0</text>
<path d="M371.00 550.5 v2" stroke="#000" stroke-width="0.9"/>
<path d="M445.50 550.5 v2" stroke="#000" stroke-width="0.9"/>
<path d="M520.00 550.5 v2" stroke="#000" stroke-width="0.9"/>
<path d="M465.5 541.2 V541.8 M464.3 541.2 h2.4 M464.3 541.8 h2.4" stroke="#000" stroke-width="1.05" fill="none"/>
<path d="M482 542.3 V543.0 M480.8 542.3 h2.4 M480.8 543.0 h2.4" stroke="#000" stroke-width="1.05" fill="none"/>
<path d="M498.6 417.8 V421 M497.3 417.8 h2.6 M497.3 421 h2.6" stroke="#000" stroke-width="1.05" fill="none"/>
<text x="333.4" y="558.8" font-size="5.2" font-weight="bold" text-anchor="middle" textLength="16" lengthAdjust="spacingAndGlyphs" stroke="#000" stroke-width="0.260" >FRESH</text>
<text x="407.9" y="558.8" font-size="5.2" font-weight="bold" text-anchor="middle" textLength="14.5" lengthAdjust="spacingAndGlyphs" stroke="#000" stroke-width="0.260" >MOCK</text>
<text x="482.4" y="558.8" font-size="5.2" font-weight="bold" text-anchor="middle" textLength="28.8" lengthAdjust="spacingAndGlyphs" stroke="#000" stroke-width="0.260" >IL-2/beads</text>
<text x="273.6" y="472.3" font-size="4.2" font-weight="bold" text-anchor="middle" textLength="52.5" lengthAdjust="spacingAndGlyphs" transform="rotate(-90 273.6 472.3)" stroke="#000" stroke-width="0.336" >IFN-gamma (pg/mL)</text>
<rect x="369.3" y="394.5" width="4.2" height="4.2" fill="#a4a4a4" stroke="#888" stroke-width="0.6"/>
<text x="375.5" y="398.9" font-size="6.4" font-weight="bold" text-anchor="start" textLength="17.5" lengthAdjust="spacingAndGlyphs" stroke="#000" stroke-width="0.480" >None</text>
<rect x="396.4" y="394.5" width="4.2" height="4.2" fill="#ffffff" stroke="#888" stroke-width="0.6"/>
<text x="403" y="398.9" font-size="6.4" font-weight="bold" text-anchor="start" textLength="9.7" lengthAdjust="spacingAndGlyphs" stroke="#000" stroke-width="0.480" >Flu</text>
<rect x="416.3" y="394.5" width="4.2" height="4.2" fill="#000000" stroke="#000" stroke-width="0.6"/>
<text x="421.75" y="398.9" font-size="6.4" font-weight="bold" text-anchor="start" textLength="26.4" lengthAdjust="spacingAndGlyphs" stroke="#000" stroke-width="0.480" >MART-1</text>
<path d="M312 549.7 H356" stroke="#555" stroke-width="0.45" fill="none"/>
<path d="M383 549.7 H400 V549.4 H417 V549.1 H433 V550" stroke="#444" stroke-width="0.5" fill="none"/>
</g>
</svg>
</body></html>
